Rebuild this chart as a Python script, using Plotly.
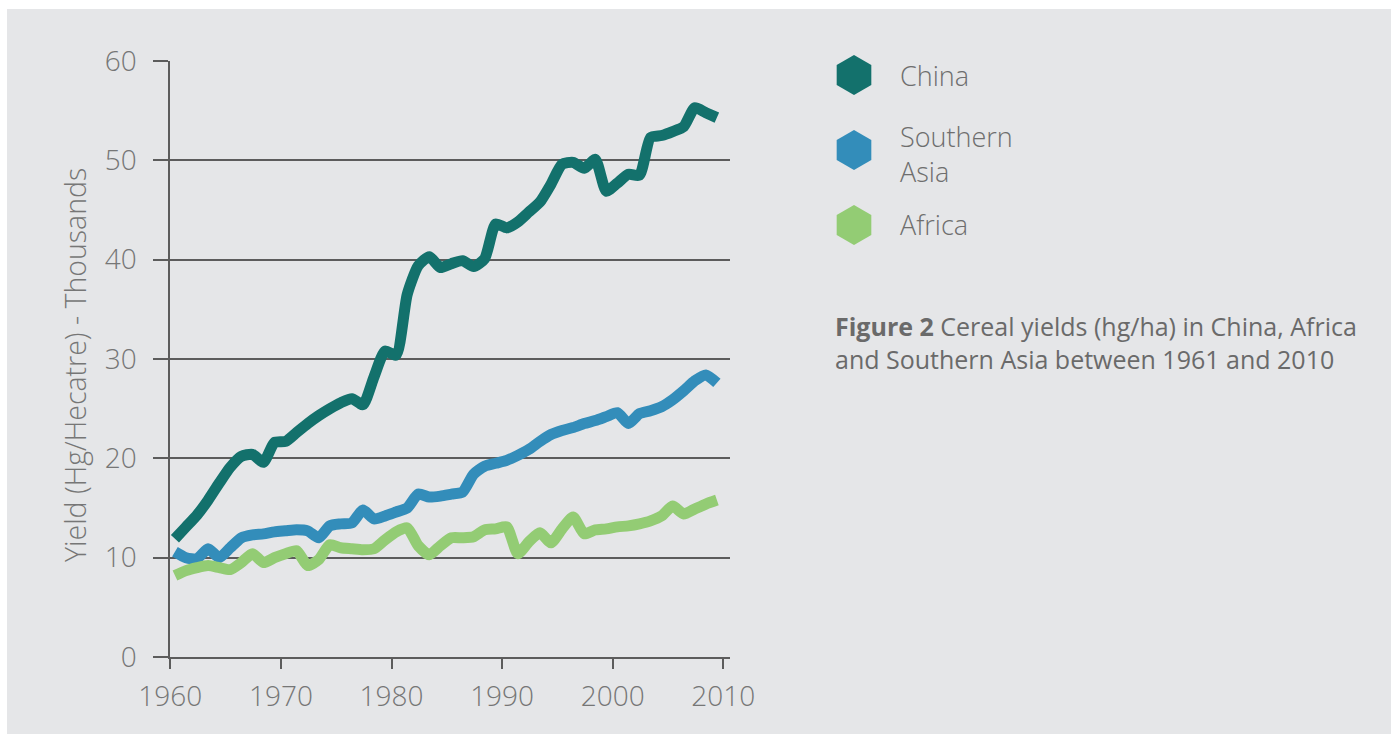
import plotly.graph_objects as go

# ---------------- data (thousand hg/ha) ----------------
years = list(range(1961, 2011))

china = [11.9, 13.1, 14.3, 15.8, 17.5, 19.1, 20.2, 20.4, 19.6, 21.6,
         21.7, 22.6, 23.5, 24.3, 25.0, 25.6, 26.0, 25.4, 28.2, 30.8,
         30.4, 36.5, 39.4, 40.3, 39.2, 39.6, 39.9, 39.3, 40.1, 43.6,
         43.2, 43.8, 44.8, 45.8, 47.6, 49.6, 49.8, 49.2, 50.1, 46.9,
         47.7, 48.6, 48.5, 52.3, 52.5, 52.9, 53.4, 55.3, 54.8, 54.3]

southern_asia = [10.6, 10.0, 9.9, 10.9, 10.0, 11.0, 12.0, 12.3, 12.4, 12.6,
                 12.7, 12.8, 12.7, 12.0, 13.2, 13.4, 13.5, 14.8, 13.9, 14.2,
                 14.6, 15.0, 16.4, 16.1, 16.2, 16.4, 16.6, 18.4, 19.2, 19.5,
                 19.8, 20.3, 20.9, 21.7, 22.4, 22.8, 23.1, 23.5, 23.8, 24.2,
                 24.6, 23.5, 24.5, 24.8, 25.2, 25.9, 26.8, 27.8, 28.4, 27.6]

africa = [8.2, 8.7, 9.0, 9.2, 9.0, 8.8, 9.5, 10.4, 9.5, 10.0,
          10.4, 10.7, 9.2, 9.8, 11.3, 11.0, 10.9, 10.8, 10.9, 11.8,
          12.6, 13.0, 11.2, 10.3, 11.2, 12.0, 12.0, 12.1, 12.8, 12.9,
          13.1, 10.4, 11.6, 12.5, 11.5, 12.9, 14.1, 12.4, 12.8, 12.9,
          13.1, 13.2, 13.4, 13.7, 14.2, 15.2, 14.4, 14.9, 15.4, 15.8]

series_names = ["China", "Southern Asia", "Africa"]
series_values = [china, southern_asia, africa]
series_colors = ["#13716c", "#338dba", "#93cc74"]
legend_labels = ["China", "Southern<br>Asia", "Africa"]

x_tick_labels = ["1960", "1970", "1980", "1990", "2000", "2010"]
y_tick_values = [0, 10, 20, 30, 40, 50, 60]
y_title = "Yield (Hg/Hecatre) - Thousands"
caption_bold = "Figure 2"
caption_rest = "Cereal yields (hg/ha) in China, Africa<br>and Southern Asia between 1961 and 2010"

# ---------------- layout constants ----------------
W, H = 1391, 734
BG = "#e5e6e8"
AXIS = "#5c5c5c"
TXT = "#767676"
FONT = "Open Sans"

plot_left, plot_right = 170.3, 730.0
plot_top, plot_bottom = 61.0, 657.0
px_per_year = 11.06
x0 = 1960.58          # axis value at the left edge (1960 tick)
x_end = x0 + (plot_right - plot_left) / px_per_year

fig = go.Figure()

for name, vals, col in zip(series_names, series_values, series_colors):
    fig.add_trace(go.Scatter(
        x=years, y=vals, mode="lines", name=name,
        line=dict(color=col, width=11, shape="spline", smoothing=0.6),
        showlegend=False, hoverinfo="x+y+name",
    ))

# legend built with hexagon markers on a separate full-page pixel axis
legend_y = [75, 150, 225]
fig.add_trace(go.Scatter(
    x=[854] * 3, y=legend_y, mode="markers",
    marker=dict(symbol="hexagon", size=40, color=series_colors, line=dict(width=0)),
    xaxis="x2", yaxis="y2", showlegend=False, hoverinfo="skip",
))

annotations = []
legend_text_y = [76, 154, 224]
for txt, yy in zip(legend_labels, legend_text_y):
    annotations.append(dict(
        x=898 / W, y=1 - yy / H, xref="paper", yref="paper",
        xanchor="left", yanchor="middle", align="left", showarrow=False, text=txt,
        font=dict(family=FONT, size=27, color="#6e6e6e", weight=300),
    ))

annotations.append(dict(
    x=75 / W, y=1 - 365 / H, xref="paper", yref="paper", textangle=-90,
    xanchor="center", yanchor="middle", showarrow=False, text=y_title,
    font=dict(family=FONT, size=28.5, color=TXT, weight=300),
))

annotations.append(dict(
    x=833 / W, y=1 - 342 / H, xref="paper", yref="paper",
    xanchor="left", yanchor="middle", align="left", showarrow=False,
    text=f"<b>{caption_bold}</b> {caption_rest}",
    font=dict(family=FONT, size=25, color="#6a6a6a"),
))

fig.update_layout(
    template="none",
    width=W, height=H, autosize=False,
    margin=dict(l=0, r=0, t=0, b=0, pad=0, autoexpand=False),
    paper_bgcolor="white",
    plot_bgcolor="rgba(0,0,0,0)",
    showlegend=False,
    shapes=[dict(type="rect", xref="paper", yref="paper",
                 x0=7 / W, x1=1, y0=0, y1=1 - 9 / H,
                 fillcolor=BG, line=dict(width=0), layer="below")],
    xaxis=dict(
        domain=[plot_left / W, plot_right / W], automargin=False,
        range=[x0, x_end], showgrid=False, zeroline=False,
        showline=True, linecolor=AXIS, linewidth=2,
        ticks="outside", ticklen=10, tickwidth=2, tickcolor=AXIS,
        tickvals=[x0 + 10 * i for i in range(len(x_tick_labels))],
        ticktext=x_tick_labels,
        tickfont=dict(family=FONT, size=28, color=TXT, weight=300),
        ticklabelstandoff=3,
    ),
    yaxis=dict(
        domain=[1 - plot_bottom / H, 1 - plot_top / H], automargin=False,
        range=[0, 60], tickvals=y_tick_values,
        showgrid=True, gridcolor=AXIS, gridwidth=2, zeroline=False,
        showline=True, linecolor=AXIS, linewidth=2,
        ticks="outside", ticklen=15, tickwidth=2, tickcolor=AXIS,
        tickfont=dict(family=FONT, size=28, color=TXT, weight=300),
        ticklabelstandoff=11,
    ),
    xaxis2=dict(domain=[0, 1], range=[0, W], visible=False, fixedrange=True,
                anchor="y2", automargin=False),
    yaxis2=dict(domain=[0, 1], range=[H, 0], visible=False, fixedrange=True,
                anchor="x2", automargin=False),
    annotations=annotations,
)

fig.write_html(
    "out.html",
    config={"displayModeBar": False},
    post_script="document.body.style.margin='0px';document.body.style.overflow='hidden';",
)
